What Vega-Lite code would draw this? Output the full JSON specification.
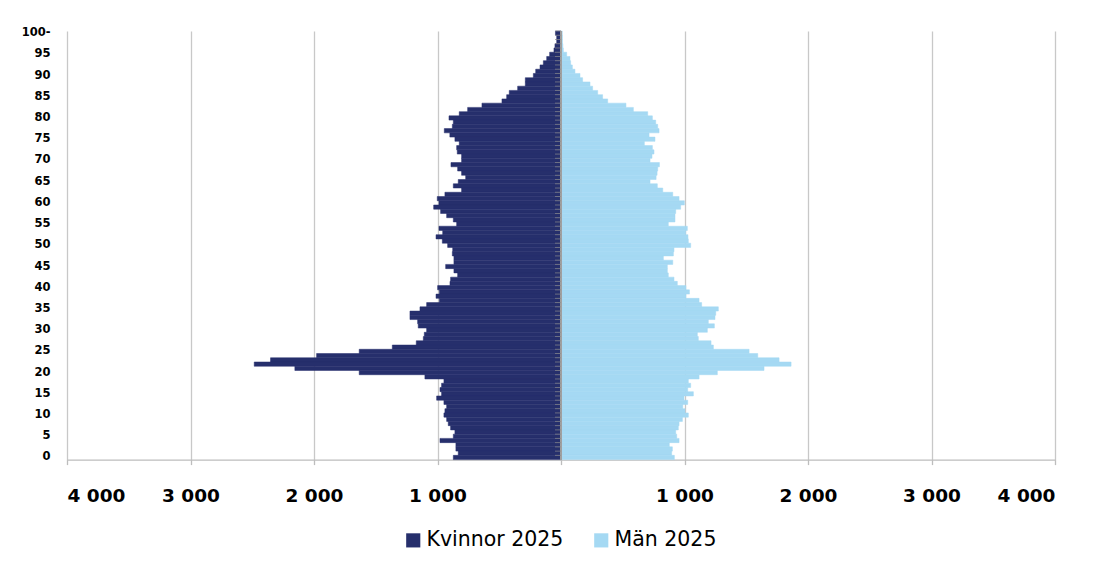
{
  "$schema": "https://vega.github.io/schema/vega-lite/v6.json",
  "width": 988,
  "height": 428.6,
  "autosize": {"type": "none"},
  "padding": {"left": 67, "top": 31, "right": 40, "bottom": 107.4},
  "background": "white",
  "config": {"view": {"stroke": null}, "font": "DejaVu Sans"},
  "data": {"values": [
    {"age": 100, "Kvinnor 2025": -45, "Män 2025": 10},
    {"age": 99, "Kvinnor 2025": -35, "Män 2025": 12},
    {"age": 98, "Kvinnor 2025": -35, "Män 2025": 12},
    {"age": 97, "Kvinnor 2025": -49, "Män 2025": 15},
    {"age": 96, "Kvinnor 2025": -57, "Män 2025": 19},
    {"age": 95, "Kvinnor 2025": -92, "Män 2025": 46},
    {"age": 94, "Kvinnor 2025": -116, "Män 2025": 73},
    {"age": 93, "Kvinnor 2025": -143, "Män 2025": 78},
    {"age": 92, "Kvinnor 2025": -170, "Män 2025": 92},
    {"age": 91, "Kvinnor 2025": -205, "Män 2025": 113},
    {"age": 90, "Kvinnor 2025": -224, "Män 2025": 154},
    {"age": 89, "Kvinnor 2025": -289, "Män 2025": 175},
    {"age": 88, "Kvinnor 2025": -289, "Män 2025": 235},
    {"age": 87, "Kvinnor 2025": -351, "Män 2025": 256},
    {"age": 86, "Kvinnor 2025": -419, "Män 2025": 297},
    {"age": 85, "Kvinnor 2025": -440, "Män 2025": 337},
    {"age": 84, "Kvinnor 2025": -478, "Män 2025": 378},
    {"age": 83, "Kvinnor 2025": -640, "Män 2025": 526},
    {"age": 82, "Kvinnor 2025": -756, "Män 2025": 586},
    {"age": 81, "Kvinnor 2025": -824, "Män 2025": 702},
    {"age": 80, "Kvinnor 2025": -907, "Män 2025": 740},
    {"age": 79, "Kvinnor 2025": -872, "Män 2025": 767},
    {"age": 78, "Kvinnor 2025": -880, "Män 2025": 783},
    {"age": 77, "Kvinnor 2025": -945, "Män 2025": 794},
    {"age": 76, "Kvinnor 2025": -900, "Män 2025": 713},
    {"age": 75, "Kvinnor 2025": -859, "Män 2025": 761},
    {"age": 74, "Kvinnor 2025": -824, "Män 2025": 675},
    {"age": 73, "Kvinnor 2025": -845, "Män 2025": 740},
    {"age": 72, "Kvinnor 2025": -840, "Män 2025": 753},
    {"age": 71, "Kvinnor 2025": -805, "Män 2025": 737},
    {"age": 70, "Kvinnor 2025": -805, "Män 2025": 721},
    {"age": 69, "Kvinnor 2025": -891, "Män 2025": 797},
    {"age": 68, "Kvinnor 2025": -837, "Män 2025": 783},
    {"age": 67, "Kvinnor 2025": -805, "Män 2025": 778},
    {"age": 66, "Kvinnor 2025": -772, "Män 2025": 770},
    {"age": 65, "Kvinnor 2025": -832, "Män 2025": 721},
    {"age": 64, "Kvinnor 2025": -872, "Män 2025": 780},
    {"age": 63, "Kvinnor 2025": -805, "Män 2025": 824},
    {"age": 62, "Kvinnor 2025": -940, "Män 2025": 905},
    {"age": 61, "Kvinnor 2025": -1002, "Män 2025": 956},
    {"age": 60, "Kvinnor 2025": -988, "Män 2025": 999},
    {"age": 59, "Kvinnor 2025": -1031, "Män 2025": 969},
    {"age": 58, "Kvinnor 2025": -975, "Män 2025": 929},
    {"age": 57, "Kvinnor 2025": -926, "Män 2025": 923},
    {"age": 56, "Kvinnor 2025": -872, "Män 2025": 923},
    {"age": 55, "Kvinnor 2025": -845, "Män 2025": 869},
    {"age": 54, "Kvinnor 2025": -988, "Män 2025": 1023},
    {"age": 53, "Kvinnor 2025": -958, "Män 2025": 1010},
    {"age": 52, "Kvinnor 2025": -1012, "Män 2025": 1028},
    {"age": 51, "Kvinnor 2025": -961, "Män 2025": 1031},
    {"age": 50, "Kvinnor 2025": -918, "Män 2025": 1050},
    {"age": 49, "Kvinnor 2025": -877, "Män 2025": 915},
    {"age": 48, "Kvinnor 2025": -880, "Män 2025": 910},
    {"age": 47, "Kvinnor 2025": -867, "Män 2025": 829},
    {"age": 46, "Kvinnor 2025": -867, "Män 2025": 905},
    {"age": 45, "Kvinnor 2025": -934, "Män 2025": 861},
    {"age": 44, "Kvinnor 2025": -867, "Män 2025": 861},
    {"age": 43, "Kvinnor 2025": -837, "Män 2025": 869},
    {"age": 42, "Kvinnor 2025": -894, "Män 2025": 915},
    {"age": 41, "Kvinnor 2025": -899, "Män 2025": 942},
    {"age": 40, "Kvinnor 2025": -999, "Män 2025": 1012},
    {"age": 39, "Kvinnor 2025": -985, "Män 2025": 1040},
    {"age": 38, "Kvinnor 2025": -1012, "Män 2025": 1012},
    {"age": 37, "Kvinnor 2025": -985, "Män 2025": 1118},
    {"age": 36, "Kvinnor 2025": -1088, "Män 2025": 1139},
    {"age": 35, "Kvinnor 2025": -1142, "Män 2025": 1274},
    {"age": 34, "Kvinnor 2025": -1223, "Män 2025": 1253},
    {"age": 33, "Kvinnor 2025": -1223, "Män 2025": 1247},
    {"age": 32, "Kvinnor 2025": -1161, "Män 2025": 1193},
    {"age": 31, "Kvinnor 2025": -1156, "Män 2025": 1242},
    {"age": 30, "Kvinnor 2025": -1088, "Män 2025": 1185},
    {"age": 29, "Kvinnor 2025": -1107, "Män 2025": 1104},
    {"age": 28, "Kvinnor 2025": -1115, "Män 2025": 1112},
    {"age": 27, "Kvinnor 2025": -1172, "Män 2025": 1215},
    {"age": 26, "Kvinnor 2025": -1366, "Män 2025": 1234},
    {"age": 25, "Kvinnor 2025": -1634, "Män 2025": 1523},
    {"age": 24, "Kvinnor 2025": -1979, "Män 2025": 1593},
    {"age": 23, "Kvinnor 2025": -2352, "Män 2025": 1766},
    {"age": 22, "Kvinnor 2025": -2484, "Män 2025": 1863},
    {"age": 21, "Kvinnor 2025": -2155, "Män 2025": 1644},
    {"age": 20, "Kvinnor 2025": -1634, "Män 2025": 1266},
    {"age": 19, "Kvinnor 2025": -1102, "Män 2025": 1118},
    {"age": 18, "Kvinnor 2025": -948, "Män 2025": 1031},
    {"age": 17, "Kvinnor 2025": -967, "Män 2025": 1050},
    {"age": 16, "Kvinnor 2025": -980, "Män 2025": 1026},
    {"age": 15, "Kvinnor 2025": -967, "Män 2025": 1072},
    {"age": 14, "Kvinnor 2025": -1007, "Män 2025": 996},
    {"age": 13, "Kvinnor 2025": -948, "Män 2025": 1026},
    {"age": 12, "Kvinnor 2025": -926, "Män 2025": 986},
    {"age": 11, "Kvinnor 2025": -940, "Män 2025": 1004},
    {"age": 10, "Kvinnor 2025": -948, "Män 2025": 1031},
    {"age": 9, "Kvinnor 2025": -926, "Män 2025": 983},
    {"age": 8, "Kvinnor 2025": -913, "Män 2025": 956},
    {"age": 7, "Kvinnor 2025": -894, "Män 2025": 950},
    {"age": 6, "Kvinnor 2025": -859, "Män 2025": 929},
    {"age": 5, "Kvinnor 2025": -872, "Män 2025": 937},
    {"age": 4, "Kvinnor 2025": -980, "Män 2025": 956},
    {"age": 3, "Kvinnor 2025": -851, "Män 2025": 877},
    {"age": 2, "Kvinnor 2025": -851, "Män 2025": 902},
    {"age": 1, "Kvinnor 2025": -832, "Män 2025": 896},
    {"age": 0, "Kvinnor 2025": -872, "Män 2025": 918}
  ]},
  "layer": [
    {
      "transform": [{"fold": ["Kvinnor 2025", "Män 2025"], "as": ["sex", "value"]}],
      "mark": {"type": "bar", "orient": "horizontal", "strokeWidth": 0.5},
      "encoding": {
        "y": {
          "field": "age", "type": "ordinal", "sort": "descending",
          "scale": {"paddingInner": 0, "paddingOuter": 0},
          "axis": {
            "title": null, "ticks": false, "domain": false, "grid": false,
            "labelFont": "DejaVu Sans", "labelFontWeight": "bold", "labelFontSize": 11.5,
            "labelColor": "#000000", "labelPadding": 17,
            "labelExpr": "datum.value % 5 == 0 ? (datum.value == 100 ? '100-' : '' + datum.value) : ''"
          }
        },
        "x": {
          "field": "value", "type": "quantitative", "stack": null,
          "scale": {"domain": [-4000, 4000], "nice": false},
          "axis": {
            "title": null,
            "values": [-4000, -3000, -2000, -1000, 0, 1000, 2000, 3000, 4000],
            "grid": true, "gridColor": "#c8c8c8", "gridWidth": 1.3,
            "domainColor": "#bdbdbd", "domainWidth": 1.3,
            "tickColor": "#bdbdbd", "tickSize": 5, "tickWidth": 1.3,
            "labelFont": "DejaVu Sans", "labelFontWeight": "bold", "labelFontSize": 18.5,
            "labelColor": "#000000", "labelPadding": 22,
            "labelExpr": "datum.value == 0 ? '' : replace(format(abs(datum.value), ','), ',', ' ')"
          }
        },
        "color": {
          "field": "sex", "type": "nominal",
          "scale": {"domain": ["Kvinnor 2025", "Män 2025"], "range": ["#262F6C", "#A5D9F3"]},
          "legend": {
            "title": null, "orient": "none", "legendX": 336, "legendY": 499,
            "direction": "horizontal", "symbolType": "square", "symbolSize": 200,
            "symbolStrokeWidth": 0, "labelFont": "DejaVu Sans", "labelFontSize": 20.5,
            "labelColor": "#000000", "labelOffset": 3, "columnPadding": 27, "padding": 0
          }
        },
        "stroke": {
          "field": "sex", "type": "nominal",
          "scale": {"domain": ["Kvinnor 2025", "Män 2025"], "range": ["#262F6C", "#A5D9F3"]},
          "legend": null
        }
      }
    },
    {
      "mark": {"type": "rule", "color": "#a0a0a0", "strokeWidth": 1},
      "encoding": {"x": {"datum": 0}}
    },
    {
      "mark": {"type": "tick", "orient": "horizontal", "color": "#8c8c8c", "size": 6, "thickness": 1, "xOffset": -3},
      "encoding": {
        "x": {"datum": 0},
        "y": {"field": "age", "type": "ordinal", "sort": "descending", "bandPosition": 0}
      }
    }
  ]
}
